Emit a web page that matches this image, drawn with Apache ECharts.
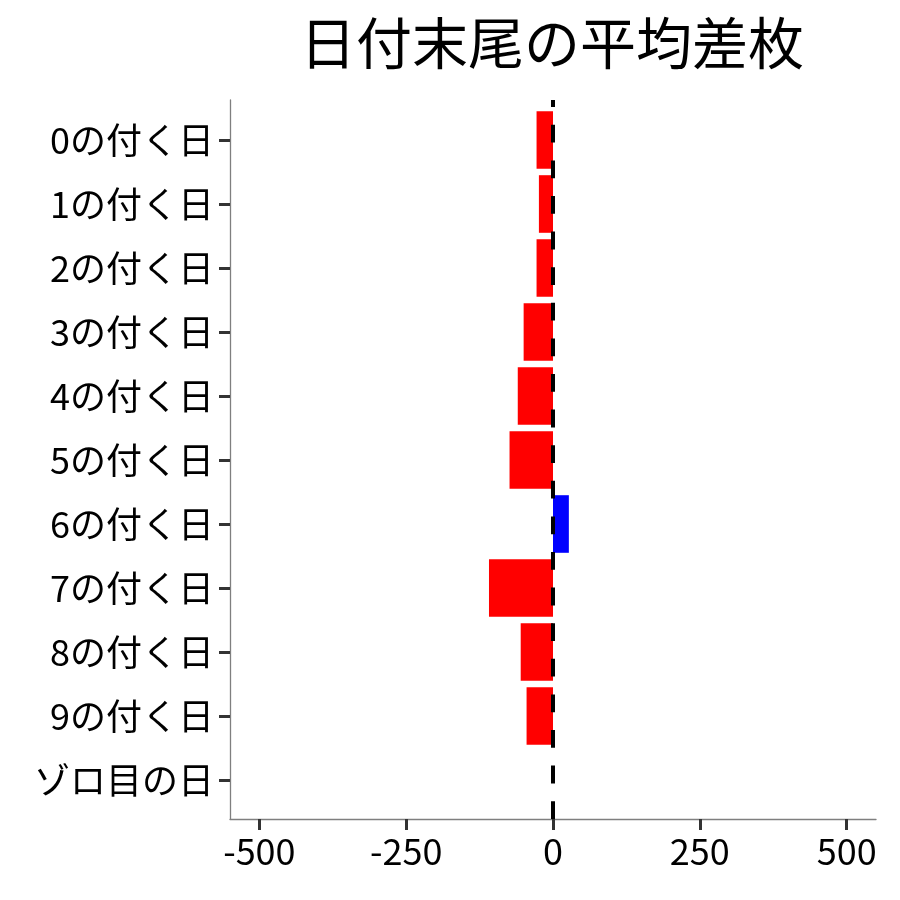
<!DOCTYPE html>
<html lang="ja">

<head>
    <meta charset="UTF-8">
    <title>日付末尾の平均差枚</title>
    <style>
        html, body {
            margin: 0;
            padding: 0;
            background: #ffffff;
        }

        #main {
            width: 900px;
            height: 900px;
        }
    </style>
    <script src="https://cdnjs.cloudflare.com/ajax/libs/echarts/6.0.0/echarts.min.js"></script>
</head>

<body>
    <div id="main"></div>
    <script>
        // data
        const categories = ["0の付く日", "1の付く日", "2の付く日", "3の付く日", "4の付く日",
            "5の付く日", "6の付く日", "7の付く日", "8の付く日", "9の付く日", "ゾロ目の日"];
        const diffValues = [-28, -24, -28, -50, -60, -74, 27, -109, -55, -45, 0];
        const xTicks = [-500, -250, 0, 250, 500];
        const xRange = [-550, 550];
        const refLine = [[0, 0], [0, 1]];

        const font = "'Noto Sans CJK JP', 'Noto Sans', sans-serif";
        const minusColor = "#ff0000";
        const plusColor = "#0000ff";

        const chart = echarts.init(document.getElementById('main'));

        const option = {
            animation: false,
            backgroundColor: '#ffffff',
            title: {
                text: "日付末尾の平均差枚",
                left: 547,
                textAlign: 'center',
                top: 10,
                textStyle: {
                    fontFamily: font,
                    fontSize: 56,
                    fontWeight: 'normal',
                    color: '#000'
                }
            },
            grid: [
                // bars: category bands of 64px
                { left: 230, right: 24, top: 108, bottom: 88 },
                // full panel for axis lines and the dashed zero line
                { left: 230, right: 24, top: 100, bottom: 81 }
            ],
            xAxis: [
                {
                    gridIndex: 0,
                    type: 'value',
                    min: xRange[0],
                    max: xRange[1],
                    offset: 7,
                    splitLine: { show: false },
                    axisLine: { show: true, onZero: false, lineStyle: { color: '#7f7f7f', width: 1.3 } },
                    axisTick: {
                        show: true,
                        customValues: xTicks,
                        length: 11,
                        lineStyle: { color: '#333', width: 3 }
                    },
                    axisLabel: {
                        customValues: xTicks,
                        margin: 14,
                        fontFamily: font,
                        fontSize: 36,
                        color: '#000'
                    }
                },
                {
                    gridIndex: 1,
                    type: 'value',
                    min: xRange[0],
                    max: xRange[1],
                    show: false
                }
            ],
            yAxis: [
                {
                    gridIndex: 0,
                    type: 'category',
                    data: categories,
                    inverse: true,
                    axisLine: { show: false, onZero: false },
                    axisTick: {
                        show: true,
                        alignWithLabel: true,
                        length: 11,
                        lineStyle: { color: '#333', width: 3 }
                    },
                    axisLabel: {
                        margin: 16,
                        fontFamily: font,
                        fontSize: 36,
                        color: '#000'
                    }
                },
                {
                    gridIndex: 1,
                    type: 'value',
                    min: 0,
                    max: 1,
                    axisLine: { show: true, onZero: false, lineStyle: { color: '#7f7f7f', width: 1.3 } },
                    axisTick: { show: false },
                    axisLabel: { show: false },
                    splitLine: { show: false }
                }
            ],
            series: [
                {
                    type: 'bar',
                    xAxisIndex: 0,
                    yAxisIndex: 0,
                    data: diffValues,
                    barCategoryGap: '10%',
                    itemStyle: {
                        color: (p) => p.value > 0 ? plusColor : minusColor
                    }
                },
                {
                    type: 'line',
                    xAxisIndex: 1,
                    yAxisIndex: 1,
                    data: refLine,
                    symbol: 'none',
                    z: 5,
                    lineStyle: {
                        color: '#000',
                        width: 4,
                        type: [17.8, 17.8]
                    }
                }
            ]
        };

        chart.setOption(option);
    </script>
</body>

</html>
